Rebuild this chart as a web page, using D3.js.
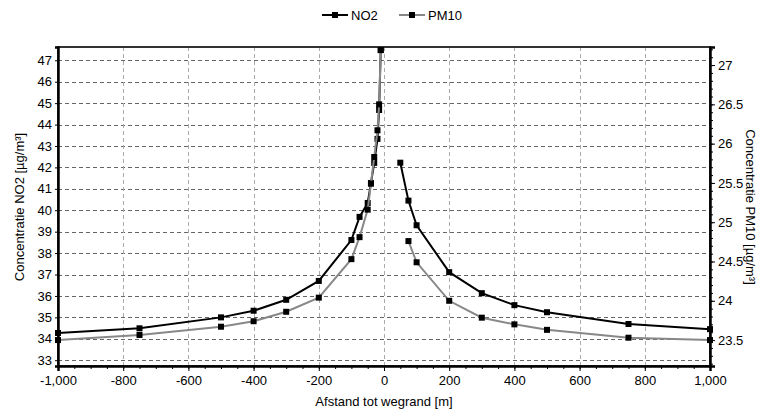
<!DOCTYPE html>
<html>
<head>
<meta charset="utf-8">
<script src="https://cdn.jsdelivr.net/npm/d3@7"></script>
<style>
  body { margin: 0; background: #fff; }
  text { font-family: "Liberation Sans", Arial, sans-serif; fill: #000; }
</style>
</head>
<body>
<div id="chart"></div>
<script>
// distances (m) and concentrations
var distLeft = [-1000, -750, -500, -400, -300, -200, -100, -75, -50, -40, -30, -20, -15, -10]
var no2Left = [34.27, 34.49, 35.00, 35.31, 35.82, 36.70, 38.61, 39.69, 40.34, 41.27, 42.21, 43.33, 44.68, 47.48]
var pm10Left = [23.50, 23.565, 23.67, 23.74, 23.86, 24.04, 24.53, 24.81, 25.16, 25.49, 25.83, 26.17, 26.50, 27.19]

var distRightNO2 = [50, 75, 100, 200, 300, 400, 500, 750, 1000]
var no2Right = [42.22, 40.45, 39.30, 37.11, 36.13, 35.57, 35.24, 34.69, 34.45]
var distRightPM10 = [75, 100, 200, 300, 400, 500, 750, 1000]
var pm10Right = [24.76, 24.49, 24.00, 23.785, 23.70, 23.63, 23.53, 23.50]

var xTicks = [-1000, -800, -600, -400, -200, 0, 200, 400, 600, 800, 1000]
var no2Ticks = [33, 34, 35, 36, 37, 38, 39, 40, 41, 42, 43, 44, 45, 46, 47]
var pm10Ticks = [23.5, 24, 24.5, 25, 25.5, 26, 26.5, 27]

var margin = { top: 47, right: 49, bottom: 47, left: 58 }
var width = 759
var height = 413

var svg = d3.select('#chart').append('svg')
  .attr('width', width)
  .attr('height', height)

var xScale = d3.scaleLinear()
  .domain([-1000, 1000])
  .range([margin.left, width - margin.right])

var yLeft = d3.scaleLinear()
  .domain([32.73, 47.62])
  .range([height - margin.bottom, margin.top])

var yRight = d3.scaleLinear()
  .domain([23.17, 27.23])
  .range([height - margin.bottom, margin.top])

// plain hyphen minus and comma thousands, like the original
var locale = d3.formatLocale({ decimal: '.', thousands: ',', grouping: [3], currency: ['', ''], minus: '-' })
var fmt = locale.format(',')

// grid
svg.append('g')
  .selectAll('line')
  .data(no2Ticks)
  .join('line')
  .attr('x1', margin.left)
  .attr('x2', width - margin.right)
  .attr('y1', d => Math.round(yLeft(d)) + 0.5)
  .attr('y2', d => Math.round(yLeft(d)) + 0.5)
  .attr('stroke', '#666')
  .attr('stroke-dasharray', '4,3')

svg.append('g')
  .selectAll('line')
  .data(xTicks.slice(1, -1))
  .join('line')
  .attr('x1', d => Math.round(xScale(d)) + 0.5)
  .attr('x2', d => Math.round(xScale(d)) + 0.5)
  .attr('y1', margin.top)
  .attr('y2', height - margin.bottom)
  .attr('stroke', '#aaa')
  .attr('stroke-dasharray', '4,3')

// frame
svg.append('rect')
  .attr('x', margin.left)
  .attr('y', margin.top)
  .attr('width', width - margin.left - margin.right)
  .attr('height', height - margin.top - margin.bottom)
  .attr('fill', 'none')
  .attr('stroke', '#333')
  .attr('stroke-width', 2)

// axes
var xAxis = d3.axisBottom(xScale).tickValues(xTicks).tickFormat(fmt).tickSize(5).tickPadding(5)
var xMinor = d3.axisBottom(xScale).ticks(40).tickFormat('').tickSize(3)

svg.append('g')
  .attr('transform', 'translate(0,' + (height - margin.bottom) + ')')
  .call(xMinor)
  .call(g => g.select('.domain').remove())

var gx = svg.append('g')
  .attr('transform', 'translate(0,' + (height - margin.bottom) + ')')
  .call(xAxis)
gx.select('.domain').attr('stroke-width', 2.5)

var gl = svg.append('g')
  .attr('transform', 'translate(' + margin.left + ',0)')
  .call(d3.axisLeft(yLeft).tickValues(no2Ticks).tickSize(3).tickPadding(3))
gl.select('.domain').attr('stroke-width', 2.5)

svg.append('g')
  .attr('transform', 'translate(' + (width - margin.right) + ',0)')
  .call(d3.axisRight(yRight).ticks(40).tickFormat('').tickSize(3))
  .call(g => g.select('.domain').remove())

var gr = svg.append('g')
  .attr('transform', 'translate(' + (width - margin.right) + ',0)')
  .call(d3.axisRight(yRight).tickValues(pm10Ticks).tickFormat(d => String(d)).tickSize(5).tickPadding(3))
gr.select('.domain').attr('stroke-width', 2.5)

svg.selectAll('.tick text').attr('font-size', 13).attr('font-family', '"Liberation Sans", Arial, sans-serif')

// axis titles
svg.append('text')
  .attr('x', xScale(0))
  .attr('y', 406)
  .attr('text-anchor', 'middle')
  .attr('font-size', 13)
  .text('Afstand tot wegrand [m]')

svg.append('text')
  .attr('transform', 'translate(24,' + 207 + ') rotate(-90)')
  .attr('text-anchor', 'middle')
  .attr('font-size', 13)
  .text('Concentratie NO2 [µg/m³]')

svg.append('text')
  .attr('transform', 'translate(746,' + 207 + ') rotate(90)')
  .attr('text-anchor', 'middle')
  .attr('font-size', 13)
  .text('Concentratie PM10 [µg/m³]')

// series
function drawSeries(dist, vals, y, color) {
  var pts = dist.map((d, i) => [d, vals[i]])
  var line = d3.line().x(d => xScale(d[0])).y(d => y(d[1]))
  svg.append('path')
    .datum(pts)
    .attr('d', line)
    .attr('fill', 'none')
    .attr('stroke', color)
    .attr('stroke-width', 2)
  svg.append('g')
    .selectAll('rect')
    .data(pts)
    .join('rect')
    .attr('x', d => xScale(d[0]) - 3)
    .attr('y', d => y(d[1]) - 3)
    .attr('width', 6)
    .attr('height', 6)
    .attr('fill', '#000')
}

drawSeries(distLeft, no2Left, yLeft, '#000')
drawSeries(distRightNO2, no2Right, yLeft, '#000')
drawSeries(distLeft, pm10Left, yRight, '#888')
drawSeries(distRightPM10, pm10Right, yRight, '#888')

// legend
var legend = [{ name: 'NO2', color: '#000', x: 322 }, { name: 'PM10', color: '#888', x: 399 }]
var lg = svg.append('g').selectAll('g').data(legend).join('g')
  .attr('transform', d => 'translate(' + d.x + ',15)')
lg.append('line').attr('x1', 0).attr('x2', 26).attr('stroke', d => d.color).attr('stroke-width', 2)
lg.append('rect').attr('x', 10).attr('y', -3).attr('width', 6).attr('height', 6).attr('fill', '#000')
lg.append('text').attr('x', 29).attr('y', 5).attr('font-size', 13).text(d => d.name)
</script>
</body>
</html>
